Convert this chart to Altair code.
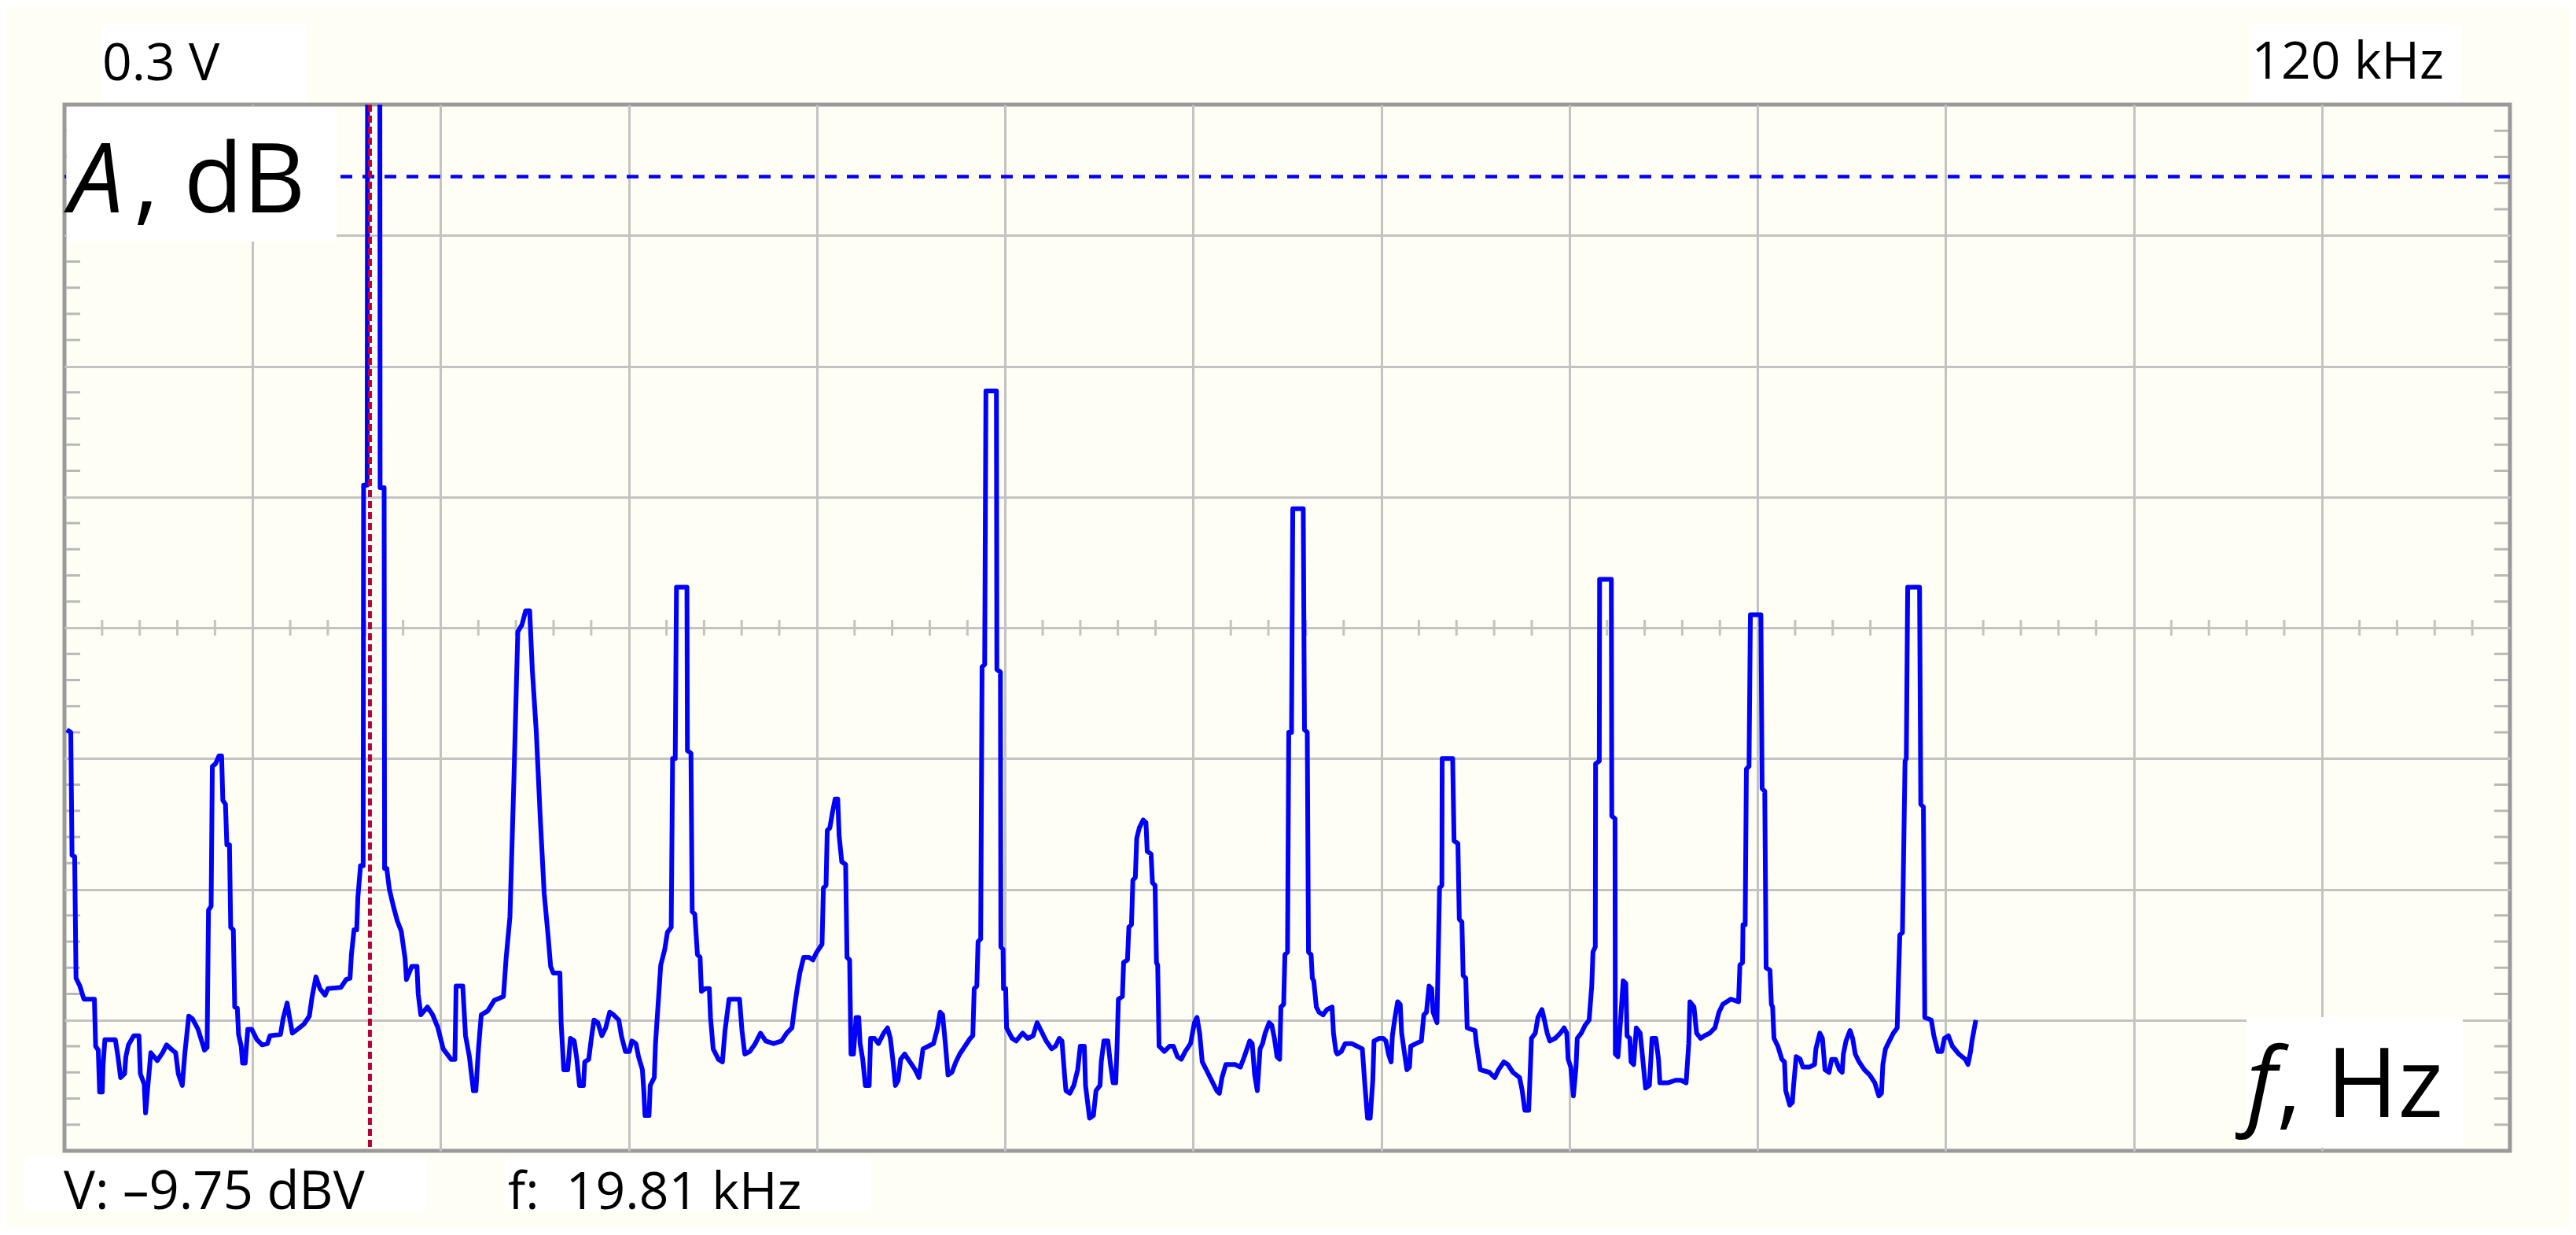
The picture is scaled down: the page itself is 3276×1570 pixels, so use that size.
import altair as alt
import pandas as pd

# ---- values: (frequency in kHz, amplitude in screen divisions 0..8) ----
seg_0_19 = [(0.15,3.22),(0.41,3.20),(0.49,2.26),(0.66,2.25),(0.75,1.32),(1.00,1.26),(1.26,1.16),(1.94,1.16),
    (2.02,0.80),(2.19,0.77),(2.28,0.45),(2.45,0.45),(2.50,0.65),(2.62,0.85),(3.30,0.85),(3.47,0.72),(3.64,0.56),
    (3.90,0.59),(3.98,0.72),(4.15,0.81),(4.49,0.88),(4.83,0.88),(4.92,0.59),(5.17,0.51),(5.26,0.29),(5.42,0.51),
    (5.60,0.75),(6.02,0.69),(6.36,0.75),(6.62,0.81),(7.00,0.77),(7.21,0.75),(7.38,0.59),(7.64,0.50),(7.81,0.75),
    (8.06,1.03),(8.30,1.01),(8.66,0.93),(9.08,0.77),(9.25,0.79),(9.34,1.84),(9.51,1.87),(9.59,2.94),(9.80,2.96),
    (10.02,3.02),(10.19,3.02),(10.27,2.68),(10.44,2.65),(10.53,2.34),(10.70,2.34),(10.78,1.71),(10.95,1.69),
    (11.04,1.10),(11.21,1.09),(11.29,0.89),(11.46,0.80),(11.55,0.67),(11.72,0.67),(11.80,0.80),(11.89,0.93),
    (12.14,0.93),(12.48,0.85),(12.82,0.81),(13.16,0.82),(13.33,0.88),(14.01,0.89),(14.18,1.01),(14.44,1.13),
    (14.61,1.01),(14.78,0.90),(15.12,0.93),(15.54,0.97),(15.88,1.03),(16.06,1.18),(16.31,1.33),(16.57,1.24),
    (16.90,1.19),(17.08,1.24),(17.93,1.25),(18.27,1.31),(18.52,1.32),(18.61,1.50),(18.78,1.69),(18.95,1.69),
    (19.03,1.94),(19.20,2.18),(19.37,2.18)]
seg_19_33 = [(19.40,5.09),(19.63,5.09),(19.66,8.8),(20.45,8.8),(20.47,5.07),(20.73,5.07),(20.76,2.16),(20.90,2.16),
    (21.07,2.00),(21.33,1.87),(21.58,1.76),(21.84,1.68),(22.09,1.47),(22.18,1.31),(22.52,1.41),(22.86,1.41),
    (22.94,1.20),(23.11,1.04),(23.54,1.10),(23.88,1.04),(24.22,0.94),(24.56,0.78),(25.07,0.70),(25.32,0.70),
    (25.40,1.26),(25.83,1.26),(26.01,0.88),(26.26,0.72),(26.52,0.46),(26.68,0.46),(26.85,0.78),(27.03,1.04),
    (27.45,1.07),(27.87,1.15),(28.47,1.18),(28.64,1.47),(28.89,1.79),(29.15,2.85),(29.40,3.97),(29.66,4.02),
    (29.91,4.13),(30.17,4.13),(30.34,3.68),(30.60,3.20),(30.85,2.56),(31.11,1.97),(31.36,1.65),(31.53,1.41),
    (31.70,1.36),(32.13,1.36),(32.21,0.98),(32.38,0.62),(32.64,0.62)]
seg_33_47 = [(32.81,0.86),(33.06,0.84),(33.23,0.70),(33.40,0.50),(33.66,0.50),(33.74,0.68),(34.00,0.70),(34.17,0.86),
    (34.34,1.00),(34.59,0.98),(34.85,0.88),(35.10,0.94),(35.36,1.06),(35.61,1.04),(35.95,1.00),(36.12,0.88),
    (36.38,0.76),(36.63,0.76),(36.80,0.84),(37.06,0.82),(37.23,0.72),(37.48,0.62),(37.57,0.46),(37.65,0.27),
    (37.91,0.27),(37.99,0.50),(38.25,0.56),(38.33,0.82),(38.50,1.12),(38.67,1.42),(38.93,1.54),(39.10,1.67),
    (39.35,1.71),(39.44,3.00),(39.61,3.00),(39.69,4.31),(40.37,4.31),(40.40,3.06),(40.63,3.04),(40.71,1.83),
    (40.88,1.81),(41.05,1.50),(41.22,1.48),(41.31,1.22),(41.56,1.24),(41.82,1.24),(41.90,1.02),(42.07,0.78),
    (42.41,0.70),(42.67,0.68),(42.84,0.92),(43.10,1.16),(43.78,1.16),(43.94,0.92),(44.12,0.74),(44.45,0.76),
    (44.80,0.82),(45.14,0.90),(45.48,0.84),(45.99,0.82),(46.50,0.84),(46.84,0.90)]
seg_47_62 = [(47.18,0.94),(47.35,1.10),(47.52,1.24),(47.69,1.36),(47.94,1.48),(48.28,1.48),(48.54,1.46),(48.79,1.52),
    (49.13,1.58),(49.22,2.01),(49.39,2.03),(49.47,2.45),(49.64,2.47),(49.81,2.59),(49.98,2.69),(50.15,2.69),
    (50.24,2.41),(50.41,2.21),(50.66,2.19),(50.75,1.48),(50.92,1.46),(51.01,0.74),(51.17,0.74),(51.34,1.02),
    (51.51,1.02),(51.60,0.82),(51.77,0.70),(51.94,0.50),(52.19,0.50),(52.28,0.86),(52.53,0.86),(52.79,0.82),
    (53.13,0.90),(53.38,0.94),(53.56,0.86),(53.72,0.70),(53.89,0.50),(54.07,0.54),(54.23,0.70),(54.49,0.74),
    (54.83,0.68),(55.17,0.62),(55.42,0.56),(55.68,0.78),(56.02,0.80),(56.36,0.82),(56.62,0.94),(56.79,1.06),
    (56.95,1.04),(57.13,0.82),(57.30,0.58),(57.55,0.60),(57.81,0.68),(58.06,0.74),(58.40,0.80),(58.74,0.86),
    (58.91,0.88),(59.00,1.24),(59.17,1.26),(59.25,1.60),(59.42,1.62),(59.51,3.70),(59.68,3.72),(59.76,5.81),
    (60.44,5.81),(60.47,3.68),(60.70,3.66),(60.73,1.56),(60.87,1.54),(60.90,1.24),(61.04,1.24),(61.10,0.94),
    (61.46,0.86),(61.72,0.84),(62.14,0.90)]
seg_62_77 = [(62.48,0.86),(62.82,0.88),(63.08,0.98),(63.33,0.92),(63.67,0.84),(64.02,0.78),(64.27,0.80),(64.52,0.86),
    (64.69,0.84),(64.86,0.58),(64.95,0.46),(65.20,0.44),(65.46,0.50),(65.71,0.62),(65.88,0.80),(66.14,0.80),
    (66.22,0.50),(66.48,0.25),(66.73,0.27),(66.90,0.46),(67.16,0.50),(67.24,0.68),(67.41,0.84),(67.67,0.84),
    (67.84,0.66),(68.01,0.52),(68.18,0.52),(68.27,0.82),(68.35,1.16),(68.61,1.18),(68.69,1.44),(68.94,1.46),
    (69.03,1.71),(69.20,1.73),(69.29,2.07),(69.45,2.09),(69.54,2.39),(69.71,2.47),(69.96,2.53),(70.14,2.51),
    (70.22,2.29),(70.47,2.27),(70.56,2.05),(70.73,2.03),(70.82,1.44),(70.90,1.42),(70.99,0.80),(71.33,0.76),
    (71.67,0.80),(71.92,0.80),(72.18,0.72),(72.43,0.70),(72.69,0.76),(73.03,0.82),(73.28,0.98),(73.45,1.02),
    (73.62,0.90),(73.79,0.68),(74.05,0.62),(74.39,0.54),(74.73,0.46),(74.90,0.44),(75.07,0.56),(75.32,0.66),
    (75.58,0.66),(75.92,0.66),(76.26,0.64),(76.52,0.72),(76.87,0.84),(77.03,0.82),(77.19,0.58),(77.36,0.46)]
seg_77_93 = [(77.54,0.78),(77.70,0.82),(77.87,0.90),(78.13,0.98),(78.30,0.96),(78.47,0.86),(78.64,0.72),(78.81,0.70),
    (78.89,1.10),(79.07,1.12),(79.15,1.50),(79.32,1.52),(79.40,3.20),(79.58,3.20),(79.66,4.91),(80.34,4.91),
    (80.42,3.22),(80.60,3.20),(80.68,1.52),(80.85,1.50),(80.93,1.32),(81.02,1.30),(81.19,1.10),(81.36,1.06),
    (81.62,1.04),(81.87,1.08),(82.21,1.10),(82.30,0.90),(82.46,0.76),(82.55,0.74),(82.81,0.76),(83.06,0.82),
    (83.48,0.82),(83.83,0.80),(84.17,0.78),(84.34,0.50),(84.51,0.25),(84.68,0.25),(84.85,0.54),(84.93,0.84),
    (85.27,0.86),(85.53,0.86),(85.70,0.84),(85.87,0.74),(86.04,0.68),(86.12,0.88),(86.29,1.02),(86.46,1.14),
    (86.63,1.12),(86.72,0.90),(86.89,0.76),(87.06,0.62),(87.23,0.64),(87.31,0.80),(87.65,0.82),(88.00,0.84),
    (88.16,1.04),(88.33,1.06),(88.50,1.26),(88.67,1.24),(88.76,1.06),(89.01,0.98),(89.18,2.01),(89.33,2.03),
    (89.35,3.00),(90.03,3.00),(90.12,2.37),(90.37,2.35),(90.46,1.77),(90.63,1.75),(90.71,1.34),(90.88,1.32),
    (90.97,0.94),(91.48,0.92),(91.57,0.82),(91.82,0.62),(92.41,0.60),(92.76,0.56)]
seg_93_108 = [(93.01,0.62),(93.35,0.68),(93.61,0.66),(93.94,0.60),(94.37,0.56),(94.54,0.46),(94.71,0.31),(94.96,0.31),
    (95.05,0.58),(95.14,0.86),(95.39,0.90),(95.56,1.02),(95.82,1.08),(95.98,1.00),(96.16,0.90),(96.33,0.84),
    (96.67,0.86),(97.01,0.90),(97.26,0.94),(97.43,0.90),(97.52,0.70),(97.69,0.64),(97.86,0.42),(98.03,0.64),
    (98.11,0.86),(98.37,0.90),(98.62,0.96),(98.88,1.00),(99.05,1.26),(99.13,1.52),(99.28,1.56),(99.30,2.96),
    (99.54,2.98),(99.56,4.37),(100.32,4.37),(100.35,2.56),(100.56,2.54),(100.58,0.74),(100.75,0.72),(100.92,1.00),
    (101.09,1.30),(101.26,1.28),(101.34,0.88),(101.52,0.86),(101.60,0.68),(101.77,0.66),(101.94,0.94),(102.19,0.90),
    (102.36,0.70),(102.54,0.48),(102.79,0.50),(102.96,0.86),(103.21,0.86),(103.38,0.70),(103.47,0.52),(103.98,0.52),
    (104.49,0.54),(104.83,0.54),(105.17,0.52),(105.34,0.82),(105.42,1.14),(105.68,1.10),(105.85,0.90),(106.11,0.86),
    (106.36,0.88),(106.70,0.90),(107.04,0.94),(107.30,1.06),(107.55,1.12),(108.06,1.16)]
seg_108_124 = [(108.57,1.14),(108.66,1.42),(108.83,1.44),(108.86,1.73),(109.00,1.73),(109.08,2.92),(109.25,2.94),
    (109.34,4.10),(110.02,4.10),(110.10,2.77),(110.27,2.75),(110.36,1.40),(110.61,1.38),(110.70,1.12),(110.78,1.10),
    (110.87,0.86),(111.12,0.80),(111.38,0.70),(111.55,0.68),(111.63,0.46),(111.89,0.35),(112.06,0.37),(112.14,0.50),
    (112.31,0.72),(112.57,0.70),(112.74,0.64),(113.16,0.64),(113.50,0.66),(113.59,0.78),(113.84,0.90),(114.01,0.86),
    (114.18,0.62),(114.44,0.60),(114.61,0.70),(114.86,0.70),(115.12,0.62),(115.29,0.60),(115.37,0.74),(115.54,0.84),
    (115.80,0.92),(115.97,0.86),(116.14,0.74),(116.39,0.68),(116.73,0.62),(117.08,0.58),(117.41,0.52),(117.67,0.42),
    (117.84,0.44),(117.93,0.66),(118.10,0.78),(118.35,0.84),(118.61,0.90),(118.86,0.94),(118.94,1.30),(119.03,1.65),
    (119.20,1.67),(119.37,2.98),(119.45,3.00),(119.54,4.31),(120.31,4.31),(120.39,2.65),(120.56,2.63),(120.65,1.02),
    (121.07,1.00),(121.24,0.88),(121.50,0.76),(121.75,0.76),(121.92,0.86),(122.18,0.88),(122.44,0.80),(122.86,0.74),
    (123.28,0.70),(123.45,0.66),(123.62,0.76),(123.71,0.84),(123.96,1.00)]

cursor_khz = 19.81          # red cursor
ref_level_div = 7.45        # blue dashed reference level
full_span_khz = 158.6       # width of the screen
n_xdiv, n_ydiv = 13, 8

label_top_left = "0.3 V"
label_top_right = "120 kHz"
label_v = "V: \u20139.75 dBV"
label_f = "f:\u00a0\u00a019.81 kHz"

segments = [seg_0_19, seg_19_33, seg_33_47, seg_47_62, seg_62_77, seg_77_93, seg_93_108, seg_108_124]
rows = []
for seg in segments:
    for f, a in seg:
        rows.append({"i": len(rows), "f": f, "a": a})
trace = pd.DataFrame(rows)

# ---- layout ----
W, H = 3110, 1330
BG = "#fefef5"
GRID = "#c3c3c3"
FONT = "Open Sans"

xs = alt.Scale(domain=[0, full_span_khz], nice=False, zero=False)
ys = alt.Scale(domain=[0, n_ydiv], nice=False, zero=False)
xgrid = [round(full_span_khz * i / n_xdiv, 4) for i in range(1, n_xdiv)]
ygrid = list(range(1, n_ydiv))


def axis(vals):
    return alt.Axis(values=vals, grid=True, labels=False, ticks=False, domain=False, title=None,
                    gridColor=GRID, gridWidth=3, gridOpacity=1)


def X():
    return alt.X("f:Q", scale=xs, axis=axis(xgrid))


def Y():
    return alt.Y("a:Q", scale=ys, axis=axis(ygrid))


mid_df = pd.DataFrame({"f": [full_span_khz * k / (n_xdiv * 5) for k in range(1, n_xdiv * 5) if k % 5]})
mid = alt.Chart(mid_df).mark_rule(color=GRID, strokeWidth=3).encode(
    x=X(), y=alt.value(H / 2 - 10), y2=alt.value(H / 2 + 10))

side_df = pd.DataFrame({"a": [k / 5 for k in range(1, n_ydiv * 5) if k % 5]})
left = alt.Chart(side_df).mark_rule(color="#b8b8b8", strokeWidth=3).encode(
    y=Y(), x=alt.value(2), x2=alt.value(20))
right = alt.Chart(side_df).mark_rule(color="#b8b8b8", strokeWidth=3).encode(
    y=Y(), x=alt.value(W - 20), x2=alt.value(W - 2))

ref = alt.Chart(pd.DataFrame({"a": [ref_level_div]})).mark_rule(
    color="#0000ff", strokeWidth=4.5, strokeDash=[15, 13]).encode(y=Y())

line = alt.Chart(trace).mark_line(color="#0000ff", strokeWidth=6, clip=True, strokeJoin="round").encode(
    x=X(), y=Y(), order="i:Q")

cur = alt.Chart(pd.DataFrame({"f": [cursor_khz]})).mark_rule(
    color="#b5003c", strokeWidth=5, strokeDash=[9, 5]).encode(x=X())


def box(x1, x2, y1, y2, color="white"):
    return alt.Chart(pd.DataFrame({"k": [0]})).mark_rect(color=color, opacity=1).encode(
        x=alt.value(x1), x2=alt.value(x2), y=alt.value(y1), y2=alt.value(y2))


def txt(s, x, y, size, align="left", style="normal"):
    return alt.Chart(pd.DataFrame({"t": [s]})).mark_text(
        font=FONT, fontSize=size, fontStyle=style, align=align, baseline="alphabetic", color="#000000"
    ).encode(x=alt.value(x), y=alt.value(y), text="t:N")


boxes = [
    box(46, 308, -103, -4),
    box(2778, 3048, -103, -4),
    box(3, 346, 3, 174),
    box(2775, 3050, 1160, 1326),
    box(-52, 461, 1336, 1407),
    box(560, 1026, 1336, 1407),
]
texts = [
    txt(label_top_left, 48, -31, 66),
    txt(label_top_right, 3026, -33, 66, align="right"),
    txt("A", 6, 137, 123, style="italic"),
    txt(", dB", 88, 137, 123),
    txt("f", 2775, 1287, 123, style="italic"),
    txt(", Hz", 2813, 1287, 123),
    txt(label_v, -1, 1404, 67),
    txt(label_f, 564, 1404, 66),
]

chart = alt.layer(mid, left, right, ref, line, cur, *boxes, *texts).properties(
    width=W, height=H, background=BG,
    padding={"left": 74, "top": 125, "right": 76, "bottom": 99},
    autosize=alt.AutoSizeParams(type="none"),
).configure_view(fill=BG, stroke="#9a9a9a", strokeWidth=5)

chart.save("out.html", embed_options={"renderer": "svg", "actions": False})
